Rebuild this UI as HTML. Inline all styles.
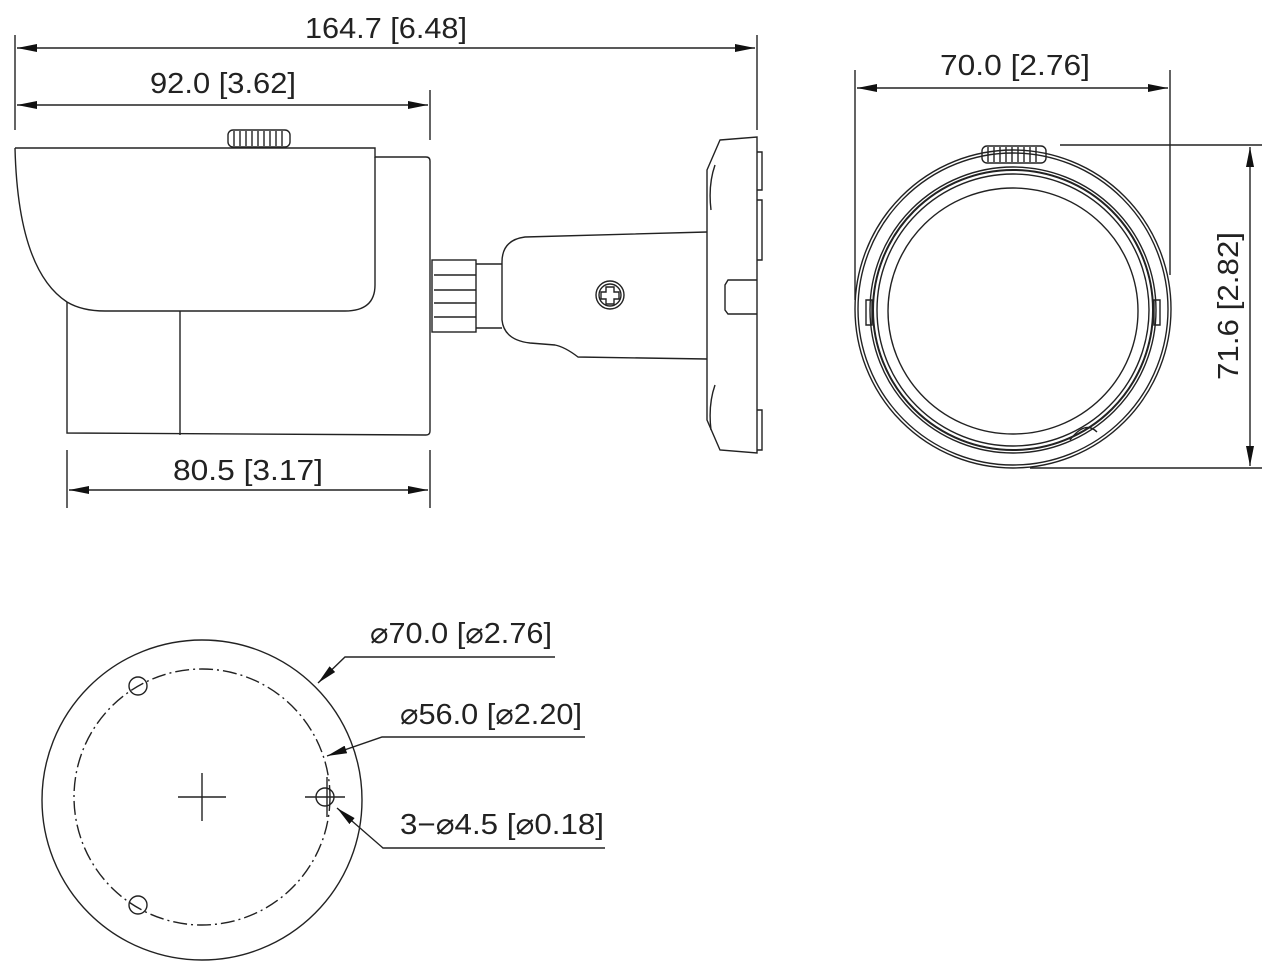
<!DOCTYPE html>
<html><head><meta charset="utf-8"><style>
html,body{margin:0;padding:0;background:#fff;}
svg{display:block}
text{font-family:"Liberation Sans",sans-serif;font-size:29px;fill:#222;}
</style></head><body>
<svg width="1280" height="967" viewBox="0 0 1280 967" xmlns="http://www.w3.org/2000/svg">
<defs>
<marker id="a" viewBox="0 0 20 8" refX="20" refY="4" markerWidth="20" markerHeight="8" markerUnits="userSpaceOnUse" orient="auto-start-reverse"><path d="M0,0 L20,4 L0,8 z" fill="#111"/></marker>
</defs>
<g stroke="#222" stroke-width="1.4" fill="none">
<!-- top dims -->
<line x1="15" y1="35" x2="15" y2="130"/><line x1="757" y1="35" x2="757" y2="130"/>
<line x1="17" y1="48" x2="755" y2="48" marker-start="url(#a)" marker-end="url(#a)"/>
<line x1="430" y1="90" x2="430" y2="140"/>
<line x1="17" y1="105" x2="428" y2="105" marker-start="url(#a)" marker-end="url(#a)"/>
<!-- 80.5 -->
<line x1="67" y1="450" x2="67" y2="508"/><line x1="430" y1="450" x2="430" y2="508"/>
<line x1="69" y1="490" x2="428" y2="490" marker-start="url(#a)" marker-end="url(#a)"/>
<!-- camera body -->
<path d="M15,148 L375,148 L375,157 L426,157 Q430,157 430,161 L430,431 Q430,435 426,435 L67,433 L67,302"/>
<path d="M15,148 Q18,270 67,302 Q82,311 105,311 L345,311 Q375,311 375,285 L375,157"/>
<line x1="180" y1="311" x2="180" y2="435"/>
<!-- knob -->
<rect x="228" y="130" width="62" height="17" rx="5"/>
<path d="M234,131 v15 M240,131 v15 M246,131 v15 M252,131 v15 M258,131 v15 M264,131 v15 M270,131 v15 M276,131 v15 M282,131 v15"/>
<!-- nut -->
<rect x="432" y="260" width="44" height="72"/>
<path d="M434,275 h42 M434,290 h42 M434,303 h42 M434,317 h42"/>
<path d="M476,264 h26 M476,328 h26"/>
<!-- bracket -->
<path d="M707,232 L525,237 Q502,240 502,262 L502,320 Q504,340 530,343 L555,345 Q565,347 578,357 L707,359"/>
<circle cx="610" cy="295" r="14"/><circle cx="610" cy="295" r="11"/>
<path d="M606,287 h8 v5 h5 v7 h-5 v5 h-8 v-5 h-5 v-7 h5 z"/>
<!-- plate -->
<path d="M720,140 L757,137 L757,453 L720,450 L707,420 L707,170 Z"/>
<path d="M757,152 h5 v38 h-5 M757,410 h5 v40 h-5 M757,200 h5 v60 h-5"/>
<path d="M757,280 L728,280 L725,285 L725,310 L728,314 L757,314"/>
<path d="M715,165 Q708,185 711,210 M715,385 Q708,405 711,430"/>
<!-- front view dims -->
<line x1="855" y1="70" x2="855" y2="300"/><line x1="1170" y1="70" x2="1170" y2="275"/>
<line x1="857" y1="88" x2="1168" y2="88" marker-start="url(#a)" marker-end="url(#a)"/>
<line x1="1060" y1="145" x2="1262" y2="145"/><line x1="1030" y1="468" x2="1262" y2="468"/>
<line x1="1250" y1="147" x2="1250" y2="466" marker-start="url(#a)" marker-end="url(#a)"/>
<!-- front view -->
<ellipse cx="1013" cy="309" rx="158" ry="159"/>
<ellipse cx="1013" cy="309" rx="155" ry="156"/>
<ellipse cx="1013" cy="310" rx="143" ry="143"/>
<ellipse cx="1013" cy="310" rx="140" ry="140" stroke-width="2"/>
<ellipse cx="1013" cy="310" rx="136" ry="136"/>
<ellipse cx="1013" cy="311" rx="125" ry="123"/>
<path d="M866,300 v25 h6 v-25 z M1154,300 v25 h6 v-25 z"/>
<path d="M1070,440 Q1085,420 1097,432"/>
<rect x="982" y="146" width="64" height="17" rx="5"/>
<path d="M988,147 v15 M994,147 v15 M1000,147 v15 M1006,147 v15 M1012,147 v15 M1018,147 v15 M1024,147 v15 M1030,147 v15 M1036,147 v15"/>
<!-- bottom view -->
<circle cx="202" cy="800" r="160"/>
<circle cx="202" cy="797" r="128" stroke-dasharray="14,4,2,4"/>
<circle cx="138" cy="686" r="9"/><circle cx="138" cy="905" r="9"/><circle cx="325" cy="797" r="9"/>
<path d="M178,797 h48 M202,773 v48 M305,797 h40 M327,777 v40"/>
<path d="M555,657 L345,657 L318,683" marker-end="url(#a)"/>
<path d="M585,737 L382,737 L327,756" marker-end="url(#a)"/>
<path d="M605,848 L383,848 L337,808" marker-end="url(#a)"/>
</g>
<g>
<text x="305" y="38" textLength="162" lengthAdjust="spacingAndGlyphs">164.7 [6.48]</text>
<text x="150" y="93" textLength="146" lengthAdjust="spacingAndGlyphs">92.0 [3.62]</text>
<text x="173" y="480" textLength="150" lengthAdjust="spacingAndGlyphs">80.5 [3.17]</text>
<text x="940" y="75" textLength="150" lengthAdjust="spacingAndGlyphs">70.0 [2.76]</text>
<text transform="translate(1238,380) rotate(-90)" textLength="148" lengthAdjust="spacingAndGlyphs">71.6 [2.82]</text>
<text x="370" y="643" textLength="182" lengthAdjust="spacingAndGlyphs">⌀70.0 [⌀2.76]</text>
<text x="400" y="724" textLength="182" lengthAdjust="spacingAndGlyphs">⌀56.0 [⌀2.20]</text>
<text x="400" y="834" textLength="204" lengthAdjust="spacingAndGlyphs">3−⌀4.5 [⌀0.18]</text>
</g>
</svg>
</body></html>
